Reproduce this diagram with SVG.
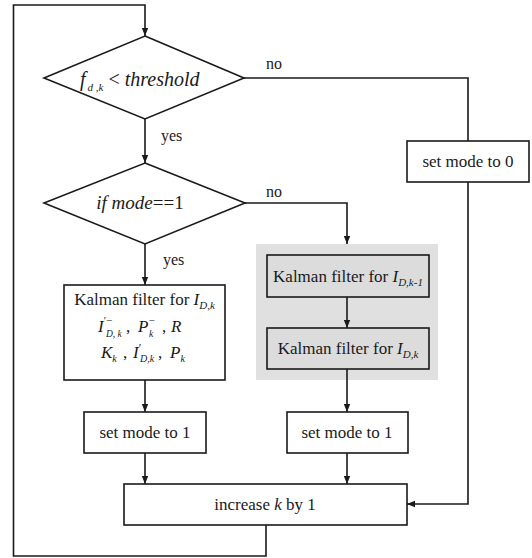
<svg xmlns="http://www.w3.org/2000/svg" width="532" height="558" viewBox="0 0 532 558">
<defs>
<marker id="ah" viewBox="0 0 10 10" refX="10" refY="5" markerWidth="8" markerHeight="8" markerUnits="userSpaceOnUse" orient="auto">
<path d="M0,1 L10,5 L0,9 z" fill="#1a1a1a"/>
</marker>
<style>
.box{fill:#fff;stroke:#1a1a1a;stroke-width:1.6}
.gbox{fill:#dcdcdc;stroke:#1a1a1a;stroke-width:1.6}
.bg{fill:#e0e0e0;stroke:none}
.ln{fill:none;stroke:#1a1a1a;stroke-width:1.6}
.ar{fill:none;stroke:#1a1a1a;stroke-width:1.6;marker-end:url(#ah)}
.i{font-style:italic}
</style>
</defs>
<rect class="bg" x="256" y="244" width="182" height="136"/>
<g id="connectors">
<path class="ar" d="M266,525 V556 H13.5 V5 H145 V36"/>
<path class="ar" d="M145,119 V163"/>
<path class="ln" d="M244,78 H468 V141"/>
<path class="ar" d="M468,182 V504 H407"/>
<path class="ar" d="M245,203 H347 V244"/>
<path class="ar" d="M145,244 V285"/>
<path class="ar" d="M347,297 V328"/>
<path class="ar" d="M347,369 V412"/>
<path class="ar" d="M145,380 V412"/>
<path class="ar" d="M145,453 V484"/>
<path class="ar" d="M347,453 V484"/>
<text font-family="Liberation Serif" font-size="16" fill="#1a1a1a" x="266" y="69">no</text>
<text font-family="Liberation Serif" font-size="16" fill="#1a1a1a" x="161" y="141">yes</text>
<text font-family="Liberation Serif" font-size="16" fill="#1a1a1a" x="266" y="197">no</text>
<text font-family="Liberation Serif" font-size="16" fill="#1a1a1a" x="163" y="265">yes</text>
</g>
<g id="d1">
<polygon class="box" points="145,36 244,78 145,119 44,78"/>
<text font-family="Liberation Serif" fill="#1a1a1a" x="80" y="86" font-size="20"><tspan class="i">f</tspan><tspan font-size="11" class="i" dy="5" dx="2">d ,k</tspan><tspan dy="-5" dx="5">&lt;</tspan><tspan class="i" dx="5">threshold</tspan></text>
</g>
<g id="d2">
<polygon class="box" points="145,163 245,203 145,244 44,203"/>
<text font-family="Liberation Serif" fill="#1a1a1a" x="140" y="209" font-size="19" text-anchor="middle"><tspan class="i">if mode</tspan>==1</text>
</g>
<g id="setmode0">
<rect class="box" x="407" y="141" width="122" height="41"/>
<text font-family="Liberation Serif" font-size="17" fill="#1a1a1a" x="468" y="167" text-anchor="middle">set mode to 0</text>
</g>
<g id="kf-left">
<rect class="box" x="64" y="285" width="161" height="95"/>
<text font-family="Liberation Serif" font-size="17" fill="#1a1a1a" x="144.5" y="305" text-anchor="middle">Kalman filter for <tspan class="i">I</tspan><tspan class="i" font-size="11" dy="4">D,k</tspan></text>
<text font-family="Liberation Serif" font-size="17" fill="#1a1a1a" x="98" y="332"><tspan class="i">I</tspan><tspan font-size="11" dy="-8">′−</tspan><tspan class="i" font-size="9.5" x="106" dy="13">D, k</tspan><tspan x="126" dy="-5">,</tspan><tspan class="i" x="138">P</tspan><tspan font-size="11" dy="-8">−</tspan><tspan class="i" font-size="9.5" x="149" dy="13">k</tspan><tspan x="162" dy="-5">,</tspan><tspan class="i" x="171">R</tspan></text>
<text font-family="Liberation Serif" font-size="17" fill="#1a1a1a" x="101" y="358"><tspan class="i">K</tspan><tspan class="i" font-size="10" dy="4">k</tspan><tspan x="123" dy="-4">,</tspan><tspan class="i" x="133">I</tspan><tspan font-size="12" dy="-6">′</tspan><tspan class="i" font-size="10" x="140" dy="10">D,k</tspan><tspan x="158" dy="-4">,</tspan><tspan class="i" x="170">P</tspan><tspan class="i" font-size="10" dy="4">k</tspan></text>
</g>
<g id="kf1">
<rect class="gbox" x="267" y="255" width="162" height="42"/>
<text font-family="Liberation Serif" font-size="17" fill="#1a1a1a" x="348" y="282" text-anchor="middle">Kalman filter for <tspan class="i">I</tspan><tspan class="i" font-size="11" dy="4">D,k-1</tspan></text>
</g>
<g id="kf2">
<rect class="gbox" x="267" y="328" width="162" height="41"/>
<text font-family="Liberation Serif" font-size="17" fill="#1a1a1a" x="348" y="354" text-anchor="middle">Kalman filter for <tspan class="i">I</tspan><tspan class="i" font-size="11" dy="4">D,k</tspan></text>
</g>
<g id="setmode1-left">
<rect class="box" x="84" y="412" width="122" height="41"/>
<text font-family="Liberation Serif" font-size="17" fill="#1a1a1a" x="145" y="438" text-anchor="middle">set mode to 1</text>
</g>
<g id="setmode1-right">
<rect class="box" x="287" y="412" width="121" height="41"/>
<text font-family="Liberation Serif" font-size="17" fill="#1a1a1a" x="347" y="438" text-anchor="middle">set mode to 1</text>
</g>
<g id="inc">
<rect class="box" x="124" y="484" width="283" height="41"/>
<text font-family="Liberation Serif" font-size="17" fill="#1a1a1a" x="265" y="510" text-anchor="middle">increase <tspan class="i">k</tspan> by 1</text>
</g>
</svg>
